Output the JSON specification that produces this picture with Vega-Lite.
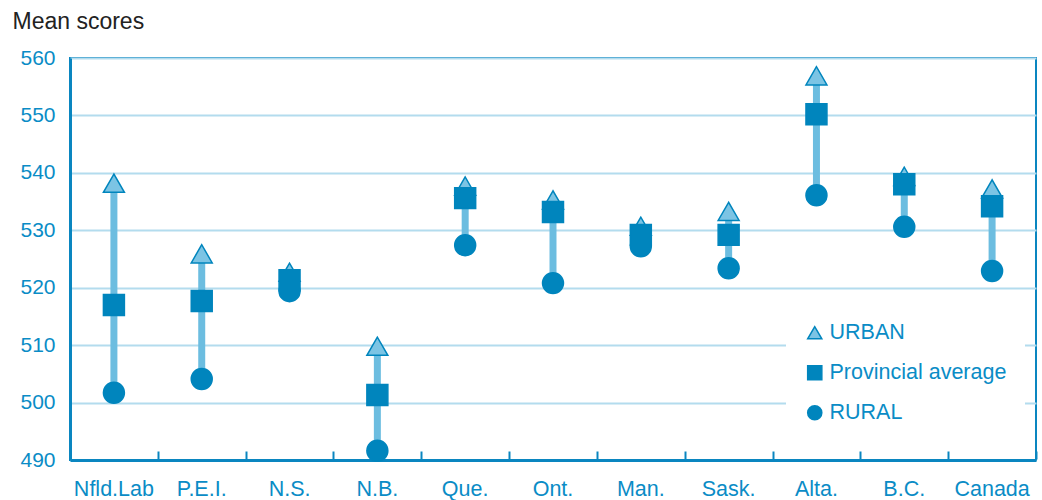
{
  "$schema": "https://vega.github.io/schema/vega-lite/v6.json",
  "width": 966,
  "height": 402,
  "autosize": {"type": "none"},
  "padding": {"left": 70, "top": 58, "right": 6, "bottom": 40},
  "background": "white",
  "config": {
    "font": "Liberation Sans",
    "view": {"stroke": "#0a86c0", "strokeWidth": 2},
    "legend": {
      "title": null,
      "orient": "none",
      "legendX": 716,
      "legendY": 246,
      "fillColor": "white",
      "padding": 18,
      "labelFontSize": 21.5,
      "labelColor": "#0a8cc6",
      "labelOffset": 4,
      "labelLimit": 400,
      "rowPadding": 17,
      "symbolSize": 200,
      "symbolStrokeWidth": 1.5
    }
  },
  "data": {
    "values": [
      {"province": "Nfld.Lab", "series": "URBAN", "value": 538.2},
      {"province": "P.E.I.", "series": "URBAN", "value": 525.9},
      {"province": "N.S.", "series": "URBAN", "value": 522.7},
      {"province": "N.B.", "series": "URBAN", "value": 509.8},
      {"province": "Que.", "series": "URBAN", "value": 537.7},
      {"province": "Ont.", "series": "URBAN", "value": 535.3},
      {"province": "Man.", "series": "URBAN", "value": 530.7},
      {"province": "Sask.", "series": "URBAN", "value": 533.3},
      {"province": "Alta.", "series": "URBAN", "value": 556.9},
      {"province": "B.C.", "series": "URBAN", "value": 539.4},
      {"province": "Canada", "series": "URBAN", "value": 537.2},
      {"province": "Nfld.Lab", "series": "RURAL", "value": 501.7},
      {"province": "P.E.I.", "series": "RURAL", "value": 504.1},
      {"province": "N.S.", "series": "RURAL", "value": 519.4},
      {"province": "N.B.", "series": "RURAL", "value": 491.6},
      {"province": "Que.", "series": "RURAL", "value": 527.4},
      {"province": "Ont.", "series": "RURAL", "value": 520.8},
      {"province": "Man.", "series": "RURAL", "value": 527.2},
      {"province": "Sask.", "series": "RURAL", "value": 523.4},
      {"province": "Alta.", "series": "RURAL", "value": 536.1},
      {"province": "B.C.", "series": "RURAL", "value": 530.6},
      {"province": "Canada", "series": "RURAL", "value": 522.9},
      {"province": "Nfld.Lab", "series": "Provincial average", "value": 517.0},
      {"province": "P.E.I.", "series": "Provincial average", "value": 517.7},
      {"province": "N.S.", "series": "Provincial average", "value": 521.3},
      {"province": "N.B.", "series": "Provincial average", "value": 501.3},
      {"province": "Que.", "series": "Provincial average", "value": 535.6},
      {"province": "Ont.", "series": "Provincial average", "value": 533.2},
      {"province": "Man.", "series": "Provincial average", "value": 529.2},
      {"province": "Sask.", "series": "Provincial average", "value": 529.2},
      {"province": "Alta.", "series": "Provincial average", "value": 550.2},
      {"province": "B.C.", "series": "Provincial average", "value": 538.0},
      {"province": "Canada", "series": "Provincial average", "value": 534.2}
    ]
  },
  "resolve": {"axis": {"x": "independent"}},
  "layer": [
    {
      "mark": {"type": "rule", "color": "#6cbde0", "strokeWidth": 7},
      "encoding": {
        "x": {
          "field": "province",
          "type": "nominal",
          "sort": ["Nfld.Lab", "P.E.I.", "N.S.", "N.B.", "Que.", "Ont.", "Man.", "Sask.", "Alta.", "B.C.", "Canada"],
          "scale": {"paddingInner": 0, "paddingOuter": 0},
          "axis": {
            "orient": "bottom",
            "title": null,
            "labels": false,
            "domain": false,
            "grid": false,
            "offset": -9,
            "tickBand": "extent",
            "tickColor": "#0a86c0",
            "tickWidth": 2,
            "tickSize": 8
          }
        },
        "y": {
          "aggregate": "min",
          "field": "value",
          "type": "quantitative",
          "scale": {"domain": [490, 560], "nice": false, "zero": false},
          "axis": {
            "title": "Mean scores",
            "titleAngle": 0,
            "titleAlign": "left",
            "titleBaseline": "alphabetic",
            "titleX": -58,
            "titleY": -30,
            "titleFontSize": 23,
            "titleFontWeight": "normal",
            "titleColor": "#222222",
            "values": [490, 500, 510, 520, 530, 540, 550, 560],
            "labelFontSize": 21,
            "labelColor": "#0a8cc6",
            "labelPadding": 15,
            "ticks": false,
            "domainColor": "#0a86c0",
            "domainWidth": 3,
            "grid": true,
            "gridColor": "#b3dcee",
            "gridWidth": 2
          }
        },
        "y2": {"aggregate": "max", "field": "value"}
      }
    },
    {
      "mark": {"type": "point", "filled": true, "opacity": 1, "strokeWidth": 1.5},
      "encoding": {
        "x": {
          "field": "province",
          "type": "nominal",
          "sort": ["Nfld.Lab", "P.E.I.", "N.S.", "N.B.", "Que.", "Ont.", "Man.", "Sask.", "Alta.", "B.C.", "Canada"],
          "axis": {
            "orient": "bottom",
            "title": null,
            "labelAngle": 0,
            "labelFontSize": 21.5,
            "labelColor": "#0a8cc6",
            "labelPadding": 18,
            "domainColor": "#0a86c0",
            "domainWidth": 3,
            "ticks": false,
            "grid": false
          }
        },
        "y": {"field": "value", "type": "quantitative"},
        "shape": {
          "field": "series",
          "type": "nominal",
          "scale": {"domain": ["URBAN", "Provincial average", "RURAL"], "range": ["triangle-up", "square", "circle"]}
        },
        "fill": {
          "field": "series",
          "type": "nominal",
          "scale": {"domain": ["URBAN", "Provincial average", "RURAL"], "range": ["#7cc4e4", "#0085bd", "#0085bd"]}
        },
        "stroke": {
          "field": "series",
          "type": "nominal",
          "scale": {"domain": ["URBAN", "Provincial average", "RURAL"], "range": ["#0085bd", "#0085bd", "#0085bd"]}
        },
        "size": {"value": 440}
      }
    }
  ]
}
